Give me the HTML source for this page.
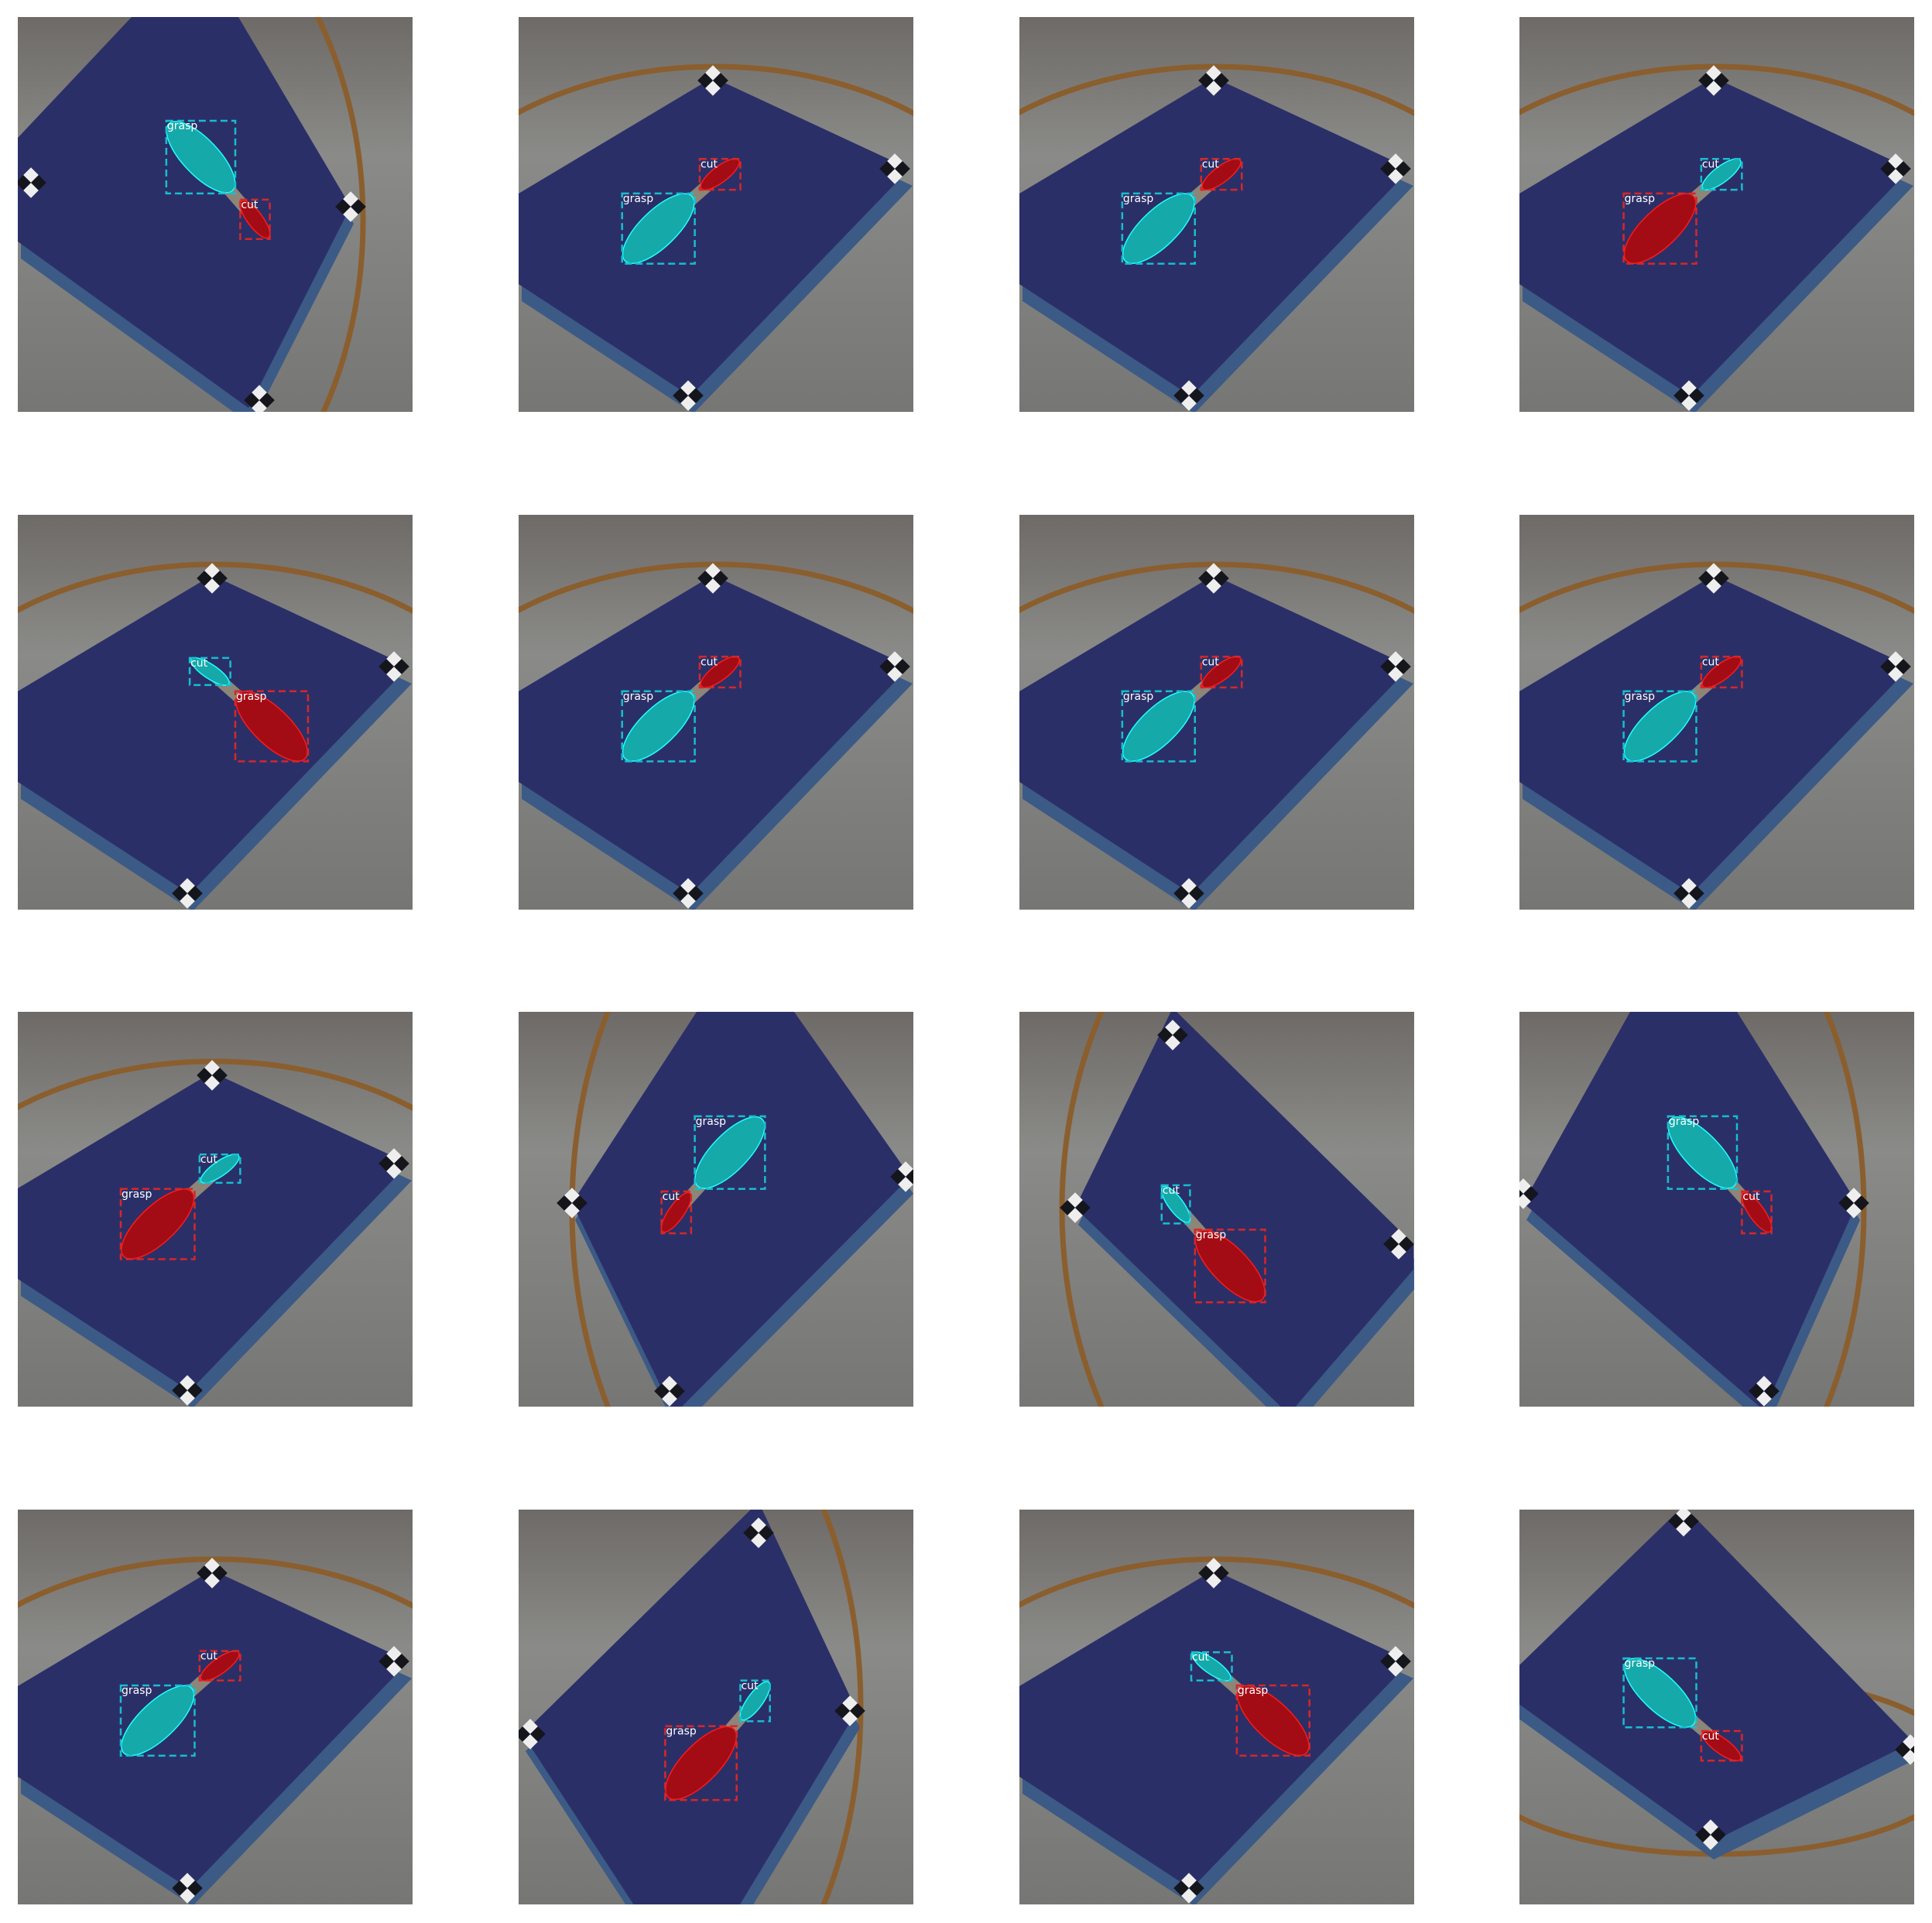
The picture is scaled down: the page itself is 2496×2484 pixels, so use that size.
<!DOCTYPE html>
<html><head><meta charset="utf-8">
<style>
html,body{margin:0;padding:0;background:#fff;width:2496px;height:2484px;overflow:hidden;}
#wrap{position:relative;width:2496px;height:2484px;background:#fff;overflow:hidden;}
svg{position:absolute;}
text{font-family:"DejaVu Sans","Liberation Sans",sans-serif;}
</style></head>
<body>
<div id="wrap"></div>
<script>
// grid layout
const colX = [23, 670, 1317, 1963];
const rowY = [22, 665, 1307, 1950];
const PANEL = 510;
const S = 1.5915; // display → full-res scale

// scene definitions (local full-res coords)
const typeA = {poly:[[0,228],[251,78],[505,196],[222,490],[0,345]], ring:[254,354,420,290], marks:[[251,82],[486,196],[219,489]]};
const scenes = [
 {poly:[[0,156],[147,0],[285,0],[430,245],[298,505],[0,290]], ring:[100,263,346,472], marks:[[17,214],[430,245],[312,495]]},
 typeA,typeA,typeA,typeA,typeA,typeA,typeA,typeA,
 {poly:[[230,0],[356,0],[506,213],[201,520],[69,247]], ring:[400,255,331,500], marks:[[69,247],[500,213],[195,490]]},
 {poly:[[198,-5],[509,300],[509,333],[348,520],[72,253]], ring:[420,255,365,500], marks:[[198,30],[72,253],[490,300]]},
 {poly:[[143,0],[281,0],[436,247],[316,515],[5,247]], ring:[100,255,345,500], marks:[[5,235],[432,247],[316,490]]},
 typeA,
 {poly:[[310,-10],[437,260],[280,520],[155,520],[5,290]], ring:[100,255,342,500], marks:[[310,30],[428,260],[15,290]]},
 typeA,
 {poly:[[212,-5],[509,300],[247,430],[-30,230]], ring:[255,330,314,115], marks:[[212,15],[505,310],[247,420]]}
];

// detection boxes in display coords [x1,y1,x2,y2]
const graspBoxes = [[135,98,191,157],[505,157,564,214],[911,157,970,214],[1318,157,1377,214],
 [191,561,250,618],[505,561,564,618],[911,561,970,618],[1318,561,1377,618],
 [98,965,158,1022],[564,906,621,965],[970,998,1027,1057],[1354,906,1410,965],
 [98,1368,158,1425],[540,1401,598,1461],[1004,1368,1063,1425],[1318,1346,1377,1402]];
const cutBoxes = [[195,162,219,194],[568,129,601,154],[975,129,1008,154],[1381,129,1414,154],
 [154,534,187,556],[568,533,601,558],[975,533,1008,558],[1381,533,1414,558],
 [162,937,195,960],[537,967,561,1001],[943,962,966,993],[1414,967,1438,1001],
 [162,1340,195,1364],[601,1364,625,1397],[967,1341,1000,1364],[1381,1405,1414,1429]];
// class colour: true = grasp cyan
const graspIsCyan = [1,1,1,0, 0,1,1,1, 0,1,0,1, 1,0,0,1];

const NS='http://www.w3.org/2000/svg';
function mk(tag, attrs, parent){const e=document.createElementNS(NS,tag);for(const k in attrs)e.setAttribute(k,attrs[k]);parent.appendChild(e);return e;}
const wrap=document.getElementById('wrap');

for(let i=0;i<16;i++){
  const col=i%4,row=Math.floor(i/4);
  const ox=colX[col],oy=rowY[row];
  const svg=document.createElementNS(NS,'svg');
  svg.setAttribute('width',PANEL);svg.setAttribute('height',PANEL);
  svg.setAttribute('viewBox','0 0 510 510');
  svg.style.left=ox+'px';svg.style.top=oy+'px';svg.style.overflow='hidden';
  
  
  wrap.appendChild(svg);
  const defs=mk('defs',{},svg);
  const g=mk('linearGradient',{id:'bg'+i,x1:0,y1:0,x2:0,y2:1},defs);
  mk('stop',{offset:0,'stop-color':'#6e6a67'},g);
  mk('stop',{offset:0.35,'stop-color':'#8a8b88'},g);
  mk('stop',{offset:1,'stop-color':'#767674'},g);
  const cp=mk('clipPath',{id:'cp'+i},defs);
  mk('rect',{x:0,y:0,width:510,height:510},cp);
  const root=mk('g',{'clip-path':'url(#cp'+i+')'},svg);
  mk('rect',{x:0,y:0,width:510,height:510,fill:'url(#bg'+i+')'},root);
  const sc=scenes[i];
  const r=sc.ring;
  const ring=mk('ellipse',{cx:r[0],cy:r[1],rx:r[2],ry:r[3],fill:'none',stroke:'#8b5e2e','stroke-width':7},root);
  
  
  const pts=sc.poly.map(p=>p.join(',')).join(' ');
  const side=sc.poly.map(p=>(p[0]+4)+','+(p[1]+22)).join(' ');
  mk('polygon',{points:side,fill:'#3c5a86'},root);
  const board=mk('polygon',{points:pts,fill:'#2b2f68'},root);
  
  
  sc.marks.forEach(m=>{
    const mg=mk('g',{transform:'translate('+m[0]+','+m[1]+') rotate(45)'},root);
    mk('rect',{x:-14,y:-14,width:14,height:14,fill:'#eeeeee'},mg);
    mk('rect',{x:0,y:0,width:14,height:14,fill:'#eeeeee'},mg);
    mk('rect',{x:0,y:-14,width:14,height:14,fill:'#15151c'},mg);
    mk('rect',{x:-14,y:0,width:14,height:14,fill:'#15151c'},mg);
  });
  // boxes local
  const gb=graspBoxes[i].map((v,k)=>(v-(k%2==0?(colX[col]/S):(rowY[row]/S)))*S);
  const cb=cutBoxes[i].map((v,k)=>(v-(k%2==0?(colX[col]/S):(rowY[row]/S)))*S);
  const gcx=(gb[0]+gb[2])/2,gcy=(gb[1]+gb[3])/2,ccx=(cb[0]+cb[2])/2,ccy=(cb[1]+cb[3])/2;
  // tool handle
  mk('line',{x1:gcx,y1:gcy,x2:ccx,y2:ccy,stroke:'#8d8578','stroke-width':16,'stroke-linecap':'round'},root);
  const slash=((ccx-gcx)*(ccy-gcy))<0;
  const cyan={fill:'#15a9aa',stroke:'#22ffff',box:'#17becf'};
  const red={fill:'#a30c14',stroke:'#ff1a1a',box:'#d62728'};
  const gcol=graspIsCyan[i]?cyan:red, ccol=graspIsCyan[i]?red:cyan;
  [[gb,gcol,'grasp'],[cb,ccol,'cut']].forEach(([b,c,lab])=>{
    const w=b[2]-b[0],h=b[3]-b[1],cx=(b[0]+b[2])/2,cy=(b[1]+b[3])/2;
    const ang=Math.atan2(h,w)*180/Math.PI*(slash?-1:1);
    const len=Math.sqrt(w*w+h*h);
    const bl=mk('ellipse',{cx:cx,cy:cy,rx:len*0.46,ry:Math.min(w,h)*0.26,fill:c.fill,stroke:c.stroke,'stroke-width':1.5,transform:'rotate('+ang+' '+cx+' '+cy+')'},root);
    
    
    const bx=mk('rect',{x:b[0],y:b[1],width:w,height:h,fill:'none',stroke:c.box,'stroke-width':2.5,'stroke-dasharray':'9,5'},root);
    
    
    const t=mk('text',{x:b[0]+1,y:b[1]+11,fill:'#ffffff','font-size':14},root);
    t.textContent=lab;
    
    
  });
}
</script>
</body></html>
